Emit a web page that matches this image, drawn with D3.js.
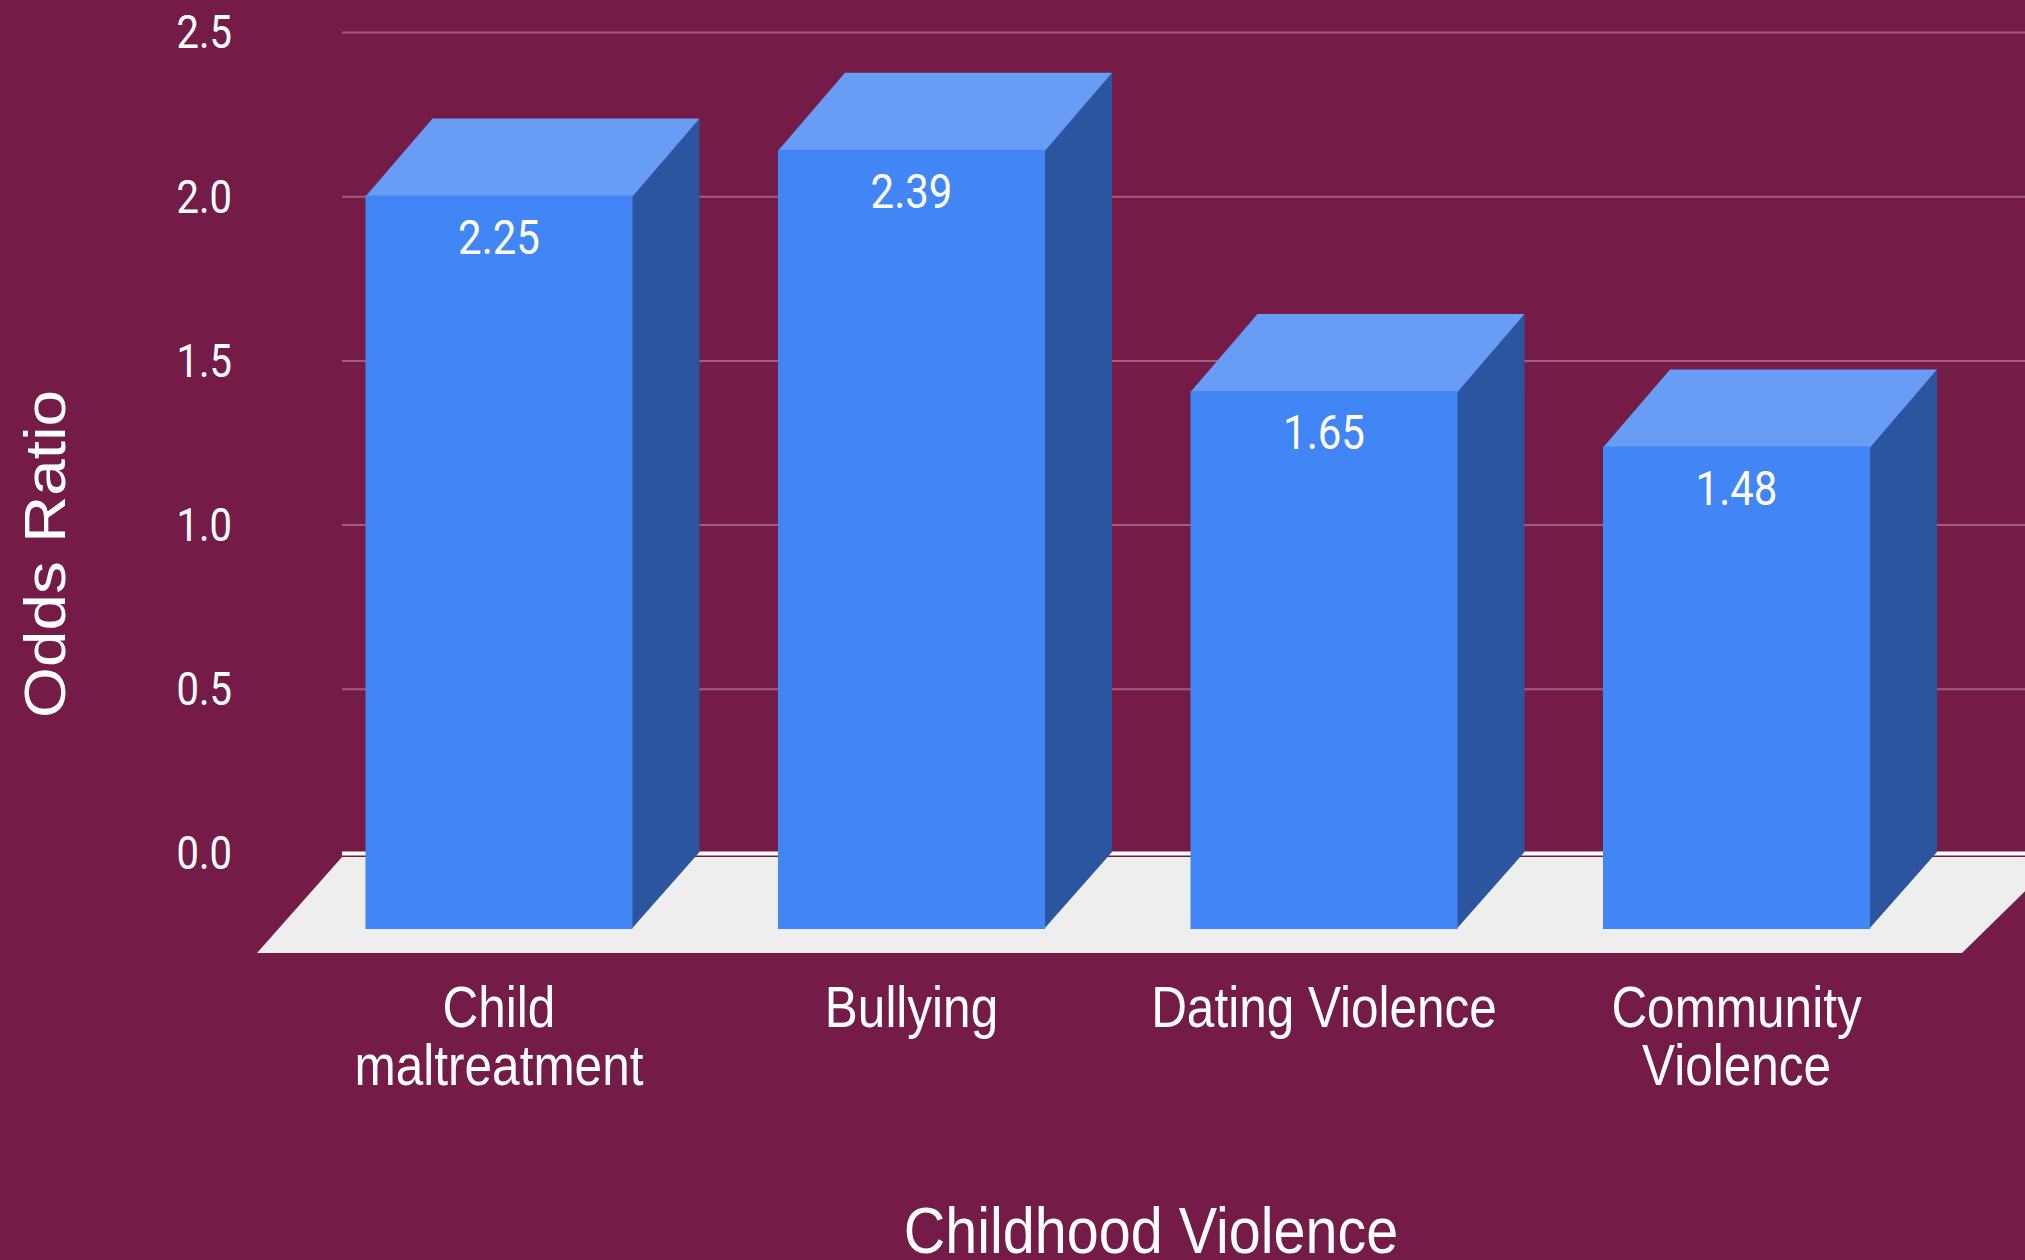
<!DOCTYPE html>
<html>
<head>
<meta charset="utf-8">
<script src="https://cdn.jsdelivr.net/npm/d3@7"></script>
<style>
  html, body { margin: 0; padding: 0; background: #741b47; }
  svg { display: block; }
  text { fill: #ffffff; }
  .num { font-family: Roboto, "Noto Sans", sans-serif; }
  .lbl { font-family: "Liberation Sans", Arial, sans-serif; }
</style>
</head>
<body>
<svg id="chart" width="2025" height="1260"></svg>
<script>
// Odds of later violence by type of childhood violence exposure
const categories = ["Child maltreatment", "Bullying", "Dating Violence", "Community Violence"];
const categoryLines = [["Child", "maltreatment"], ["Bullying"], ["Dating Violence"], ["Community", "Violence"]];
const oddsRatios = [2.25, 2.39, 1.65, 1.48];
const yTicks = [0, 0.5, 1.0, 1.5, 2.0, 2.5];
const tickLabels = ["0.0", "0.5", "1.0", "1.5", "2.0", "2.5"];
const xTitle = "Childhood Violence";
const yTitle = "Odds Ratio";

const W = 2025, H = 1260;
const svg = d3.select("#chart");
const stretch = 1.15;              // vertical text stretch of the layout

// back wall (gridlines) and front plane of the bars
const wallLeft = 342, wallRight = W;
const yWall = d3.scaleLinear().domain([0, 2.5]).range([853, 32]);
const frontBase = 929;
const yFront = d3.scaleLinear().domain([0, 2.5]).range([frontBase, frontBase - 2.5 * 326]);
const depthX = 67, depthY = 77;    // bar depth offset (front -> back)

const step = 412.5, pIn = 0.3527, pOut = pIn / 2;
const r0 = 365.5 - pOut * step;
const x = d3.scaleBand()
  .domain(categories)
  .range([r0, r0 + step * (categories.length - pIn + 2 * pOut)])
  .paddingInner(pIn)
  .paddingOuter(pOut);

const colors = { front: "#4285f4", top: "#689cf5", side: "#2b569f", floor: "#eeeeee",
                 grid: "#9f5f7f", zero: "#ffffff" };

// gridlines on the back wall
const yAxis = d3.axisLeft(yWall).tickValues(yTicks).tickSize(-(wallRight - wallLeft)).tickFormat("");
const gAxis = svg.append("g").attr("transform", `translate(${wallLeft},0)`).call(yAxis);
gAxis.select(".domain").remove();
gAxis.selectAll(".tick line")
  .attr("stroke", d => d === 0 ? colors.zero : colors.grid)
  .attr("stroke-width", d => d === 0 ? 4 : 2);

// floor
const floorBack = 857, floorFront = 953;
svg.append("polygon")
  .attr("points", [[257, floorFront], [wallLeft, floorBack], [2060, floorBack], [1962, floorFront]].join(" "))
  .attr("fill", colors.floor);

// tick labels
const tickFont = 40;
svg.append("g").selectAll("g").data(yTicks).join("g")
  .attr("transform", d => `translate(232,${yWall(d)}) scale(1,${stretch})`)
  .append("text")
  .attr("class", "num")
  .attr("text-anchor", "end")
  .attr("y", 0.355 * tickFont)
  .attr("font-size", tickFont)
  .text((d, i) => tickLabels[i]);

// 3D bars
const bars = svg.append("g").selectAll("g").data(categories).join("g");
bars.each(function (c, i) {
  const g = d3.select(this);
  const x0 = x(c), x1 = x(c) + x.bandwidth();
  const yt = yFront(oddsRatios[i]), yb = yFront(0);
  g.append("polygon")
    .attr("points", [[x1 - 1, yt], [x1 + depthX, yt - depthY], [x1 + depthX, yb - depthY], [x1 - 1, yb]].join(" "))
    .attr("fill", colors.side);
  g.append("polygon")
    .attr("points", [[x0, yt + 1], [x0 + depthX, yt - depthY], [x1 + depthX, yt - depthY], [x1, yt + 1]].join(" "))
    .attr("fill", colors.top);
  g.append("rect")
    .attr("x", x0).attr("y", yt)
    .attr("width", x.bandwidth()).attr("height", yb - yt)
    .attr("fill", colors.front);
});

// value labels
const valFont = 42;
svg.append("g").selectAll("g").data(categories).join("g")
  .attr("transform", (c, i) => `translate(${x(c) + x.bandwidth() / 2},${yFront(oddsRatios[i]) + 58}) scale(1,${stretch})`)
  .append("text")
  .attr("class", "num")
  .attr("text-anchor", "middle")
  .attr("font-size", valFont)
  .text((c, i) => oddsRatios[i].toFixed(2));

// category labels
const catFont = 49.5, catStretch = 1.17;
const catG = svg.append("g").selectAll("g").data(categories).join("g")
  .attr("transform", c => `translate(${x(c) + x.bandwidth() / 2},1027) scale(1,${catStretch})`);
catG.append("text")
  .attr("class", "lbl")
  .attr("text-anchor", "middle")
  .attr("font-size", catFont)
  .selectAll("tspan").data((c, i) => categoryLines[i]).join("tspan")
  .attr("x", 0)
  .attr("y", (d, j) => j * 58 / catStretch)
  .text(d => d);

// axis titles
svg.append("text")
  .attr("class", "lbl")
  .attr("transform", `translate(1151,1253) scale(1,1.14)`)
  .attr("text-anchor", "middle")
  .attr("font-size", 57.5)
  .text(xTitle);
svg.append("text")
  .attr("class", "lbl")
  .attr("transform", `translate(65,554) rotate(-90) scale(${stretch},1)`)
  .attr("text-anchor", "middle")
  .attr("font-size", 57)
  .text(yTitle);
</script>
</body>
</html>
